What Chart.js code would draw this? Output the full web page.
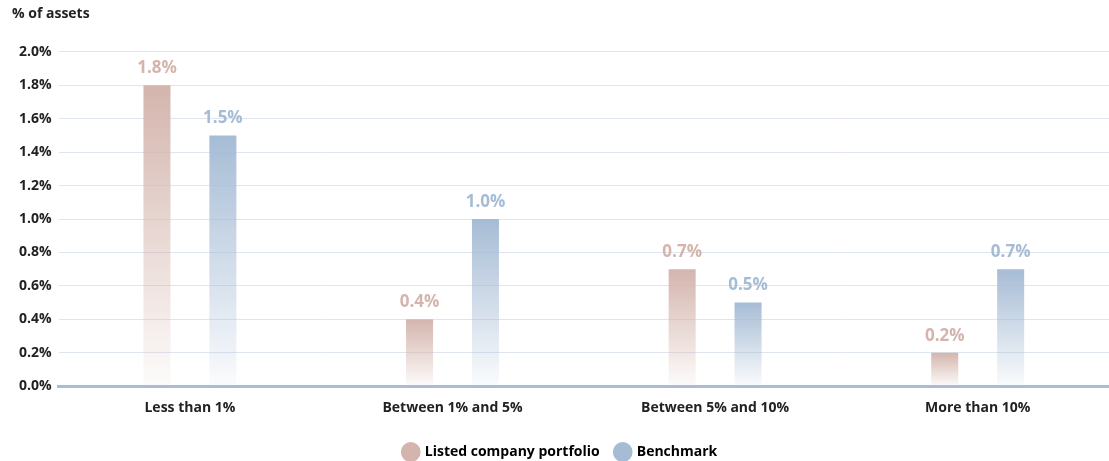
<!DOCTYPE html>
<html>
<head>
<meta charset="utf-8">
<script src="https://cdn.jsdelivr.net/npm/chart.js@4"></script>
<style>
  html, body { margin: 0; padding: 0; background: #fff; }
  #wrap { width: 1109px; height: 461px; }
</style>
</head>
<body>
<div id="wrap"><canvas id="myChart"></canvas></div>
<script>
const categories = ["Less than 1%", "Between 1% and 5%", "Between 5% and 10%", "More than 10%"];
const seriesNames = ["Listed company portfolio", "Benchmark"];
const portfolio = [1.8, 0.4, 0.7, 0.2];
const benchmark = [1.5, 1.0, 0.5, 0.7];
const yTicks = [0, 0.2, 0.4, 0.6, 0.8, 1.0, 1.2, 1.4, 1.6, 1.8, 2.0];

const pink = "rgb(212,181,173)";
const blue = "rgb(166,188,213)";
const FONT = "'Open Sans', Lato, sans-serif";

function fade(rgb) {
  return function (context) {
    const area = context.chart.chartArea;
    if (!area) return rgb;
    const g = context.chart.ctx.createLinearGradient(0, area.top, 0, area.bottom);
    const c = rgb.replace("rgb(", "").replace(")", "");
    // solid at the bar top, fading to nearly clear at the base
    const topY = context.chart.scales.y.getPixelForValue(context.raw);
    const start = (topY - area.top) / (area.bottom - area.top);
    g.addColorStop(Math.max(0, Math.min(1, start)), "rgba(" + c + ",1)");
    g.addColorStop(1, "rgba(" + c + ",0.05)");
    return g;
  };
}

// value labels drawn above each bar
const barLabels = {
  id: "barLabels",
  afterDatasetsDraw(chart) {
    const ctx = chart.ctx;
    ctx.save();
    ctx.font = "bold 17px " + FONT;
    ctx.textAlign = "center";
    ctx.textBaseline = "middle";
    chart.data.datasets.forEach((ds, i) => {
      ctx.fillStyle = ds.labelColor;
      chart.getDatasetMeta(i).data.forEach((bar, j) => {
        ctx.fillText(ds.data[j].toFixed(1) + "%", bar.x, bar.y - 17);
      });
    });
    ctx.restore();
  }
};

const ctx = document.getElementById("myChart");

new Chart(ctx, {
  type: "bar",
  data: {
    labels: categories,
    datasets: [{
      label: seriesNames[0],
      data: portfolio,
      backgroundColor: fade(pink),
      labelColor: pink
    }, {
      label: seriesNames[1],
      data: benchmark,
      backgroundColor: fade(blue),
      labelColor: blue
    }]
  },
  options: {
    responsive: true,
    maintainAspectRatio: false,
    animation: false,
    layout: { padding: { left: 12, right: 0, top: 0, bottom: -8 } },
    datasets: { bar: { categoryPercentage: 0.502, barPercentage: 0.41 } },
    plugins: {
      title: {
        display: true,
        text: "% of assets",
        align: "start",
        color: "#222",
        font: { family: FONT, size: 14, weight: "bold" },
        padding: { top: 6, bottom: 29 }
      },
      legend: {
        position: "bottom",
        labels: {
          usePointStyle: true,
          pointStyle: "circle",
          boxWidth: 15,
          boxHeight: 15,
          padding: 16,
          color: "#222",
          font: { family: FONT, size: 14, weight: "bold" },
          generateLabels(chart) {
            return chart.data.datasets.map((ds, i) => ({
              text: ds.label,
              fillStyle: ds.labelColor,
              strokeStyle: ds.labelColor,
              lineWidth: 0,
              pointStyle: "circle",
              datasetIndex: i
            }));
          }
        }
      },
      tooltip: { enabled: false }
    },
    scales: {
      x: {
        grid: { display: false },
        border: { color: "#a9bdd2", width: 3 },
        afterFit(scale) { scale.height += 8; },
        ticks: {
          color: "#222",
          padding: 5,
          font: { family: FONT, size: 14, weight: "bold" }
        }
      },
      y: {
        min: 0,
        max: 2.0,
        afterBuildTicks(axis) {
          axis.ticks = yTicks.map(v => ({ value: v }));
        },
        grid: { color: "#dfe5ef", drawTicks: false, lineWidth: 1 },
        border: { display: false },
        ticks: {
          color: "#222",
          padding: 7,
          font: { family: FONT, size: 14, weight: "bold" },
          callback: v => v.toFixed(1) + "%"
        }
      }
    }
  },
  plugins: [barLabels]
});
</script>
</body>
</html>
